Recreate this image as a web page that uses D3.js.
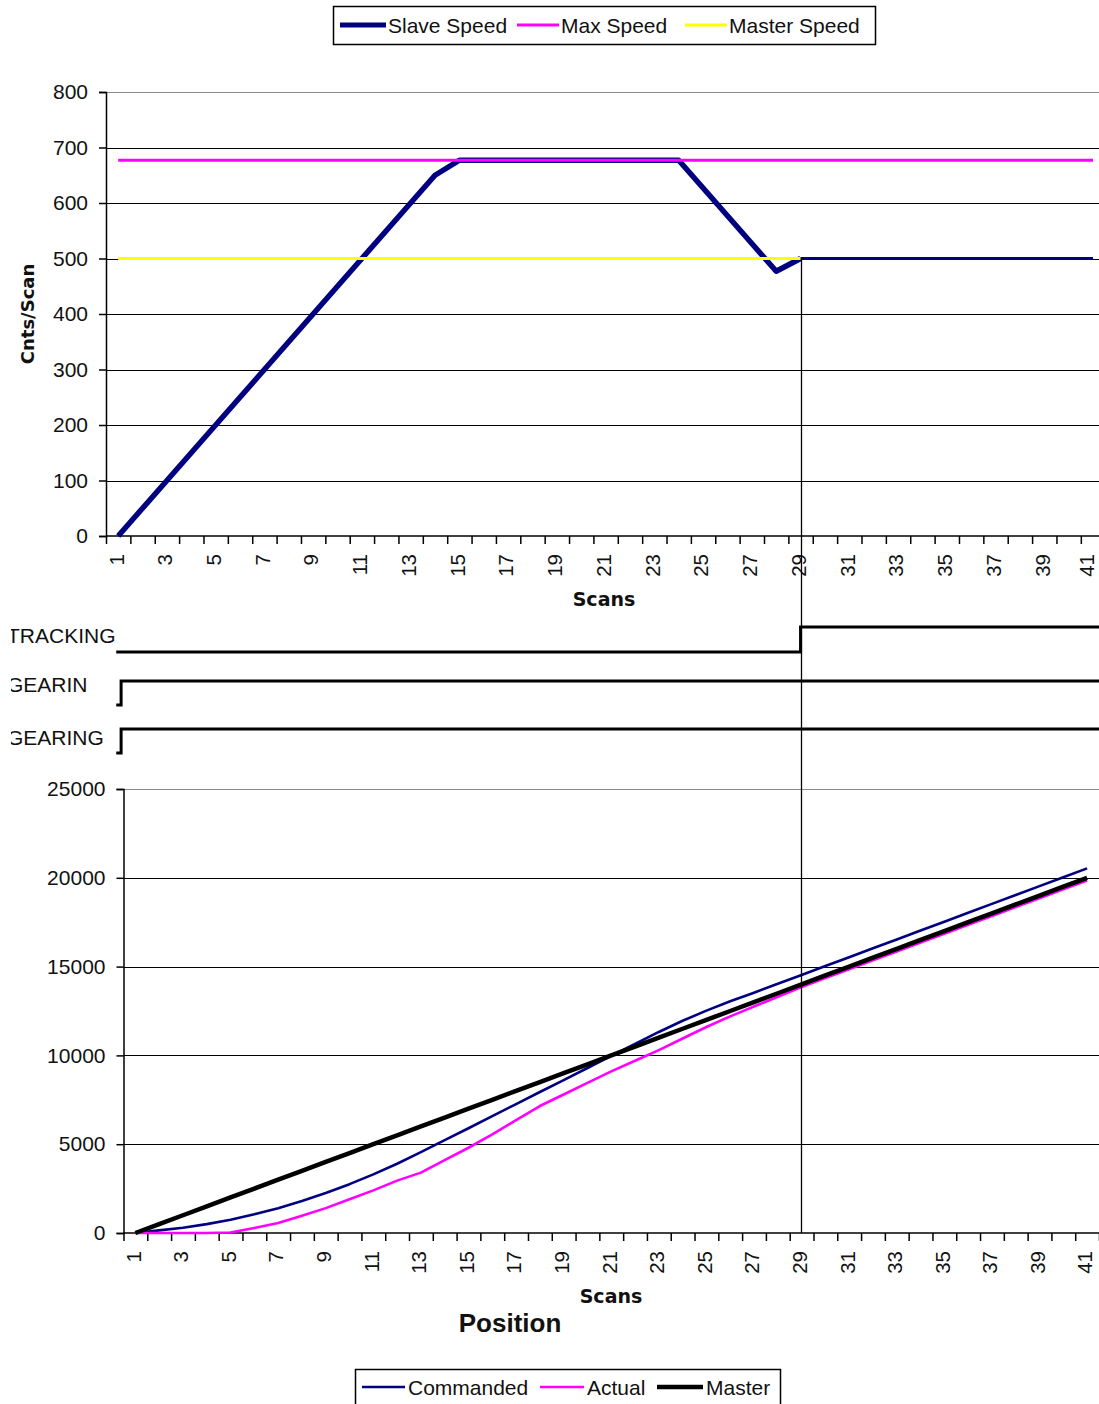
<!DOCTYPE html>
<html>
<head>
<meta charset="utf-8">
<script src="https://cdn.jsdelivr.net/npm/d3@7/dist/d3.min.js"></script>
<style>
  html, body { margin: 0; padding: 0; background: #fff; }
  svg { display: block; }
  text { font-family: "Liberation Sans", Arial, sans-serif; fill: #111; }
  .bold { font-family: "DejaVu Sans", Verdana, sans-serif; font-weight: bold; }
</style>
</head>
<body>
<svg id="chart" width="1099" height="1404"></svg>
<script>
// ---------- DATA ----------
const scans = [1,2,3,4,5,6,7,8,9,10,11,12,13,14,15,16,17,18,19,20,21,22,23,24,25,26,27,28,29,30,31,32,33,34,35,36,37,38,39,40,41];
const scanTickLabels = [1,3,5,7,9,11,13,15,17,19,21,23,25,27,29,31,33,35,37,39,41];

// Speed chart (Cnts/Scan)
const slaveSpeed  = [0,50,100,150,200,250,300,350,400,450,500,550,600,650,677,677,677,677,677,677,677,677,677,677,627,577,527,477,500,500,500,500,500,500,500,500,500,500,500,500,500];
const maxSpeed    = [677,677,677,677,677,677,677,677,677,677,677,677,677,677,677,677,677,677,677,677,677,677,677,677,677,677,677,677,677,677,677,677,677,677,677,677,677,677,677,677,677];
const masterSpeed = [500,500,500,500,500,500,500,500,500,500,500,500,500,500,500,500,500,500,500,500,500,500,500,500,500,500,500,500,500,500,500,500,500,500,500,500,500,500,500,500,500];
const speedTicks  = [0,100,200,300,400,500,600,700,800];

// Position chart
const commanded = [0,150,300,500,750,1050,1400,1800,2250,2750,3300,3900,4550,5230,5900,6580,7260,7940,8610,9290,9970,10640,11320,11950,12520,13050,13530,14030,14530,15030,15530,16030,16530,17030,17530,18030,18530,19030,19530,20030,20530];
const actual    = [0,0,0,0,30,280,560,970,1400,1900,2400,2950,3400,4100,4800,5550,6350,7150,7800,8450,9100,9700,10300,10950,11600,12200,12750,13300,13850,14350,14850,15350,15850,16350,16850,17350,17850,18350,18850,19350,19850];
const master    = [0,500,1000,1500,2000,2500,3000,3500,4000,4500,5000,5500,6000,6500,7000,7500,8000,8500,9000,9500,10000,10500,11000,11500,12000,12500,13000,13500,14000,14500,15000,15500,16000,16500,17000,17500,18000,18500,19000,19500,20000];
const posTicks  = [0,5000,10000,15000,20000,25000];

// Status signals
const statusNames = ["TRACKING", "GEARIN", "GEARING"];
const statusStart = [0.92, 0.92, 0.92];
const statusOn    = [29, 1.12, 1.12];
const trackingScan = 29;

// ---------- SETUP ----------
const svg = d3.select("#chart");
const W = 1099;
const navy = "#000080", magenta = "#ff00ff", yellow = "#ffff00";

const bounds = scans.map(d => d - 0.5).concat([scans[scans.length - 1] + 0.5]);

const xTop = d3.scaleLinear().domain([0.5, 41.5]).range([106, 1105.2]);
const yTop = d3.scaleLinear().domain([0, 800]).range([536, 92]);
const xBot = d3.scaleLinear().domain([0.5, 41.5]).range([123.5, 1099]);
const yBot = d3.scaleLinear().domain([0, 25000]).range([1233, 789]);

function drawFrame(x, y, yTicks, fmt) {
  const g = svg.append("g");
  const x0 = x.range()[0];
  g.selectAll("line.grid").data(yTicks.slice(1)).enter().append("line")
    .attr("x1", x0).attr("x2", W)
    .attr("y1", d => Math.round(y(d)) + 0.5).attr("y2", d => Math.round(y(d)) + 0.5)
    .attr("stroke", (d, i) => i === yTicks.length - 2 ? "#8a8a8a" : "#000")
    .attr("stroke-width", 1.2);
  const ya = d3.axisLeft(y).tickValues(yTicks).tickSize(7).tickPadding(11).tickFormat(fmt);
  const yg = g.append("g").attr("transform", `translate(${x0},0)`).call(ya);
  yg.select(".domain").attr("stroke", "#000").attr("stroke-width", 1.5);
  yg.selectAll(".tick line").attr("stroke", "#000").attr("stroke-width", 1.5);
  yg.selectAll(".tick text").style("font-family", '"Liberation Sans", Arial, sans-serif')
    .style("font-size", "21px").attr("fill", "#111");
  const y0 = y.range()[0];
  const xa = d3.axisBottom(x).tickValues(bounds).tickSize(8).tickFormat("");
  const xg = g.append("g").attr("transform", `translate(0,${y0})`).call(xa);
  xg.select(".domain").attr("stroke", "#000").attr("stroke-width", 1.5)
    .attr("d", `M${x0},0H${W}`);
  xg.selectAll(".tick line").attr("stroke", "#000").attr("stroke-width", 1.5);
  g.selectAll("text.xl").data(scanTickLabels).enter().append("text")
    .attr("transform", d => {
      // keep the rightmost label's box inside the page
      const px = Math.min(x(d), W - 10);
      return `translate(${px},${y0 + 18}) rotate(-90)`;
    })
    .attr("text-anchor", "end").attr("dy", "0.26em")
    .style("font-size", "20.5px").text(d => d);
  return g;
}

// ---------- TOP CHART ----------
drawFrame(xTop, yTop, speedTicks, d => d);

const lineTop = d3.line().x(d => xTop(d[0])).y(d => yTop(d[1]));
const slavePts = scans.map((s, i) => [s, slaveSpeed[i]]);
svg.append("path").attr("d", lineTop(slavePts.filter(d => d[0] <= trackingScan)))
  .attr("fill", "none").attr("stroke", navy).attr("stroke-width", 5.5)
  .attr("stroke-linejoin", "round").attr("stroke-linecap", "butt");
svg.append("path").attr("d", lineTop(scans.map((s, i) => [s, maxSpeed[i]])))
  .attr("fill", "none").attr("stroke", magenta).attr("stroke-width", 3);
svg.append("path").attr("d", lineTop(scans.map((s, i) => [s, masterSpeed[i]])))
  .attr("fill", "none").attr("stroke", yellow).attr("stroke-width", 3);
svg.append("path").attr("d", lineTop(slavePts.filter(d => d[0] >= trackingScan)))
  .attr("fill", "none").attr("stroke", navy).attr("stroke-width", 3);

svg.append("text").attr("class", "bold")
  .attr("transform", "translate(28,314) rotate(-90)")
  .attr("text-anchor", "middle").attr("dy", "0.36em")
  .style("font-size", "18px").text("Cnts/Scan");
svg.append("text").attr("class", "bold").attr("x", 604).attr("y", 606)
  .attr("text-anchor", "middle").style("font-size", "19px").text("Scans");

// Top legend
const legTop = svg.append("g");
legTop.append("rect").attr("x", 333.5).attr("y", 6.5).attr("width", 542).attr("height", 38)
  .attr("fill", "#fff").attr("stroke", "#000").attr("stroke-width", 1.5);
const topItems = [
  {name: "Slave Speed", color: navy, w: 5, x: 340, lx: 46},
  {name: "Max Speed", color: magenta, w: 3, x: 517, lx: 42},
  {name: "Master Speed", color: yellow, w: 3, x: 685, lx: 42}
];
topItems.forEach(it => {
  legTop.append("line").attr("x1", it.x).attr("x2", it.x + it.lx).attr("y1", 25).attr("y2", 25)
    .attr("stroke", it.color).attr("stroke-width", it.w);
  legTop.append("text").attr("x", it.x + it.lx + 2).attr("y", 33)
    .style("font-size", "21px").text(it.name);
});

// ---------- STATUS SIGNALS ----------
const statusY = [[652, 627], [705, 681], [753, 729]];
const labelY = [643, 692, 745];
const clip = svg.append("defs").append("clipPath").attr("id", "lblclip");
clip.append("rect").attr("x", 11).attr("y", 600).attr("width", 200).attr("height", 200);
statusNames.forEach((name, i) => {
  svg.append("text").attr("x", 7).attr("y", labelY[i]).attr("clip-path", "url(#lblclip)")
    .style("font-size", "21px").text(name);
  const lo = statusY[i][0], hi = statusY[i][1];
  const xs = xTop(statusStart[i]), xo = xTop(statusOn[i]);
  svg.append("path")
    .attr("d", `M${xs},${lo}H${xo}V${hi}H${W}`)
    .attr("fill", "none").attr("stroke", "#000").attr("stroke-width", 3);
});

// ---------- BOTTOM CHART ----------
drawFrame(xBot, yBot, posTicks, d => d);

const lineBot = d3.line().x(d => xBot(d[0])).y(d => yBot(d[1]));
svg.append("path").attr("d", lineBot(scans.map((s, i) => [s, commanded[i]])))
  .attr("fill", "none").attr("stroke", navy).attr("stroke-width", 2.6).attr("stroke-linejoin", "round");
svg.append("path").attr("d", lineBot(scans.map((s, i) => [s, actual[i]])))
  .attr("fill", "none").attr("stroke", magenta).attr("stroke-width", 2.6).attr("stroke-linejoin", "round");
svg.append("path").attr("d", lineBot(scans.map((s, i) => [s, master[i]])))
  .attr("fill", "none").attr("stroke", "#000").attr("stroke-width", 4.5).attr("stroke-linejoin", "round");

const vx = Math.round(xTop(trackingScan)) + 0.5;
svg.append("line").attr("x1", vx).attr("x2", vx)
  .attr("y1", yTop(slaveSpeed[trackingScan - 1])).attr("y2", yBot(0))
  .attr("stroke", "#000").attr("stroke-width", 1.3);

svg.append("text").attr("class", "bold").attr("x", 611).attr("y", 1303)
  .attr("text-anchor", "middle").style("font-size", "19px").text("Scans");
svg.append("text").attr("x", 510).attr("y", 1332)
  .attr("text-anchor", "middle").style("font-size", "26px").style("font-weight", "bold").text("Position");

// Bottom legend
const legBot = svg.append("g");
legBot.append("rect").attr("x", 355.5).attr("y", 1369.5).attr("width", 425).attr("height", 44)
  .attr("fill", "#fff").attr("stroke", "#000").attr("stroke-width", 1.5);
const botItems = [
  {name: "Commanded", color: navy, w: 2.5, x: 362, lx: 43},
  {name: "Actual", color: magenta, w: 2.5, x: 540, lx: 44},
  {name: "Master", color: "#000", w: 4.5, x: 657, lx: 46}
];
botItems.forEach(it => {
  legBot.append("line").attr("x1", it.x).attr("x2", it.x + it.lx).attr("y1", 1387).attr("y2", 1387)
    .attr("stroke", it.color).attr("stroke-width", it.w);
  legBot.append("text").attr("x", it.x + it.lx + 3).attr("y", 1395)
    .style("font-size", "21px").text(it.name);
});
</script>
</body>
</html>
